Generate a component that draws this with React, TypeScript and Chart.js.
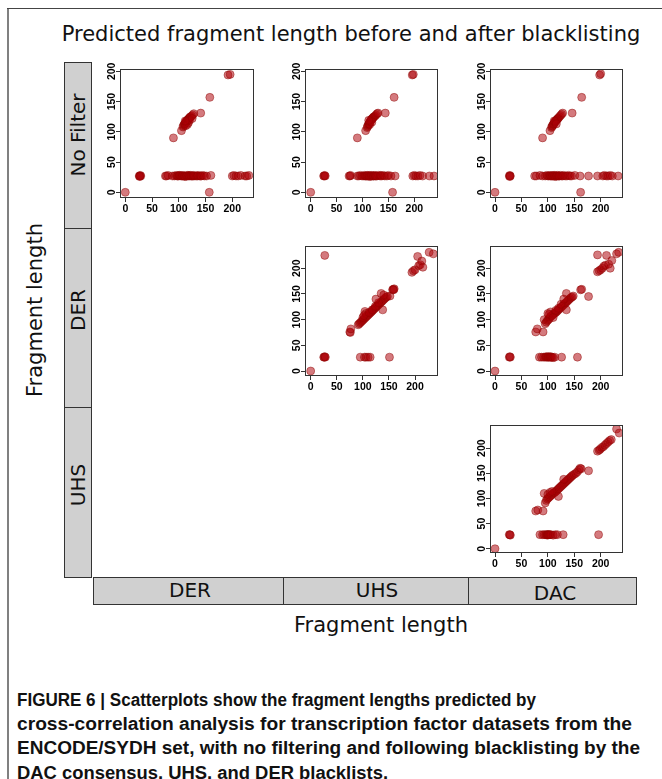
import React, { useEffect, useRef } from 'react';
import { Chart, registerables } from 'chart.js';

Chart.register(...registerables);

// ---------------- text ----------------
const TITLE = 'Predicted fragment length before and after blacklisting';
const AXIS_TITLE = 'Fragment length';
const ROW_LABELS = ['No Filter', 'DER', 'UHS'];
const COL_LABELS = ['DER', 'UHS', 'DAC'];
const TICK_VALUES = [0, 50, 100, 150, 200];
const CAPTION_LINES = [
  'FIGURE 6 | Scatterplots show the fragment lengths predicted by',
  'cross-correlation analysis for transcription factor datasets from the',
  'ENCODE/SYDH set, with no filtering and following blacklisting by the',
  'DAC consensus, UHS, and DER blacklists.',
];

type Pair = [number, number];

// ---------------- data: [column blacklist length, row length] ----------------
const NOFILTER_VS_DER: Pair[] = [
  [0, 0], [26, 27], [27, 27], [28, 28], [29, 27], [27, 26],
  [75, 27], [77, 27], [80, 28], [88, 27], [92, 27], [95, 28], [97, 27], [98, 27], [100, 27], [101, 28],
  [102, 28], [104, 27], [106, 27], [107, 27], [108, 28], [110, 27], [111, 27], [112, 26], [114, 27],
  [115, 27], [116, 28], [118, 27], [119, 28], [120, 27], [122, 28], [123, 27], [124, 27], [126, 27],
  [127, 27], [128, 28], [130, 27], [133, 27], [135, 27], [136, 28], [139, 27], [141, 27], [142, 27],
  [145, 28], [148, 27], [152, 27], [160, 28],
  [200, 27], [203, 28], [207, 27], [211, 27], [216, 28], [224, 27], [227, 27], [231, 28],
  [90, 90], [105, 102], [108, 108], [109, 110], [110, 112], [111, 113], [112, 114], [113, 116],
  [114, 117], [115, 118], [116, 119], [117, 120], [118, 121], [119, 122], [120, 123], [121, 124],
  [122, 125], [124, 126], [126, 128], [128, 130], [116, 112], [118, 115], [113, 110], [120, 119],
  [125, 122], [112, 118],
  [141, 131], [158, 157], [192, 194], [196, 195], [157, 0],
];

const NOFILTER_VS_UHS: Pair[] = [
  [0, 0], [25, 27], [26, 27], [27, 28], [28, 27],
  [74, 27], [76, 27], [77, 28], [90, 27], [93, 27], [96, 28], [99, 27], [102, 27], [104, 28], [105, 27],
  [106, 27], [108, 27], [109, 27], [110, 28], [112, 27], [113, 28], [114, 26], [116, 27], [117, 27],
  [118, 28], [120, 27], [121, 27], [122, 27], [124, 28], [125, 27], [126, 27], [128, 27], [131, 28],
  [134, 27], [135, 28], [137, 27], [140, 28], [143, 27], [147, 27], [150, 28], [155, 27], [163, 27],
  [197, 27], [200, 28], [203, 27], [207, 27], [211, 28], [216, 27], [229, 27], [238, 27],
  [90, 90], [106, 102], [109, 107], [110, 109], [111, 111], [112, 113], [113, 114], [114, 116],
  [115, 117], [116, 119], [117, 120], [118, 121], [119, 122], [120, 123], [121, 124], [122, 125],
  [124, 126], [126, 128], [128, 130], [130, 131], [114, 112], [118, 116], [112, 119],
  [144, 131], [161, 157], [196, 194], [198, 195], [158, 0],
];

const NOFILTER_VS_DAC: Pair[] = [
  [0, 0], [27, 27], [28, 28], [29, 27], [28, 26],
  [75, 27], [78, 27], [85, 28], [90, 27], [95, 27], [98, 28], [100, 27], [102, 27], [104, 28], [105, 27],
  [106, 27], [108, 27], [109, 27], [110, 28], [112, 27], [113, 28], [114, 26], [116, 27], [117, 27],
  [118, 28], [120, 27], [121, 27], [122, 27], [124, 28], [126, 27], [128, 27], [130, 28], [133, 27],
  [136, 27], [139, 28], [142, 27], [145, 27], [151, 28], [161, 27], [177, 27], [194, 27],
  [204, 27], [207, 28], [211, 27], [214, 27], [218, 28], [222, 27], [233, 27],
  [90, 90], [104, 102], [107, 107], [108, 109], [109, 110], [110, 112], [111, 113], [112, 114],
  [113, 116], [114, 117], [115, 118], [116, 119], [117, 120], [118, 121], [119, 122], [120, 123],
  [122, 125], [124, 127], [126, 129], [128, 131], [112, 118], [116, 113],
  [146, 131], [164, 157], [198, 194], [200, 196], [162, 0],
];

const DER_VS_UHS: Pair[] = [
  [0, 0], [25, 27], [26, 27], [27, 28], [28, 27], [27, 225],
  [95, 27], [103, 27], [106, 27], [110, 27], [114, 27], [151, 27],
  [75, 76], [76, 75], [77, 82], [91, 90], [93, 92], [95, 94], [97, 96], [99, 98], [101, 100], [103, 102],
  [105, 104], [107, 106], [109, 108], [111, 110], [113, 112], [115, 114], [117, 116], [119, 118],
  [121, 120], [123, 122], [125, 124], [127, 126], [129, 128], [131, 130], [133, 132], [135, 134],
  [137, 136], [139, 138], [141, 140], [143, 142], [145, 144], [147, 145], [100, 104], [104, 116],
  [106, 112], [102, 108], [112, 114], [118, 119], [124, 126], [130, 133], [138, 119], [135, 151],
  [125, 140], [152, 146], [140, 148], [157, 158], [158, 159], [160, 160], [159, 158],
  [194, 192], [197, 195], [200, 197], [205, 223], [207, 205], [210, 207], [213, 214], [215, 202],
  [227, 231], [235, 228],
];

const DER_VS_DAC: Pair[] = [
  [0, 0], [27, 27], [28, 28], [29, 27],
  [84, 27], [88, 27], [92, 27], [95, 27], [97, 28], [98, 27], [100, 27], [101, 28], [102, 27], [104, 27],
  [105, 28], [106, 27], [108, 27], [110, 26], [113, 27], [126, 27], [156, 27],
  [77, 76], [80, 82], [91, 76], [93, 100], [95, 92], [97, 95], [99, 98], [101, 100], [103, 102],
  [104, 105], [106, 107], [108, 108], [110, 110], [112, 112], [114, 113], [116, 115], [118, 117],
  [120, 119], [122, 121], [124, 123], [126, 125], [128, 127], [130, 129], [132, 131], [134, 133],
  [136, 135], [138, 137], [140, 139], [142, 141], [144, 143], [146, 144], [148, 146], [102, 110],
  [105, 115], [100, 112], [110, 104], [115, 118], [120, 122], [125, 130], [135, 119], [135, 151],
  [130, 140], [162, 158], [164, 159], [177, 145],
  [194, 226], [194, 193], [197, 195], [200, 197], [203, 200], [206, 204], [209, 206], [211, 225],
  [215, 208], [218, 200], [221, 215], [230, 228], [234, 231],
];

const UHS_VS_DAC: Pair[] = [
  [0, 0], [27, 28], [28, 28], [29, 27],
  [85, 28], [90, 28], [93, 28], [96, 28], [98, 28], [99, 27], [100, 28], [101, 28], [102, 28], [104, 28],
  [106, 28], [110, 27], [114, 28], [118, 28], [129, 28], [196, 28],
  [77, 75], [81, 77], [91, 75], [93, 110], [95, 91], [97, 96], [99, 99], [101, 101], [103, 103],
  [105, 105], [107, 107], [109, 109], [111, 111], [113, 112], [115, 114], [117, 116], [119, 118],
  [121, 120], [123, 122], [125, 124], [127, 126], [129, 128], [131, 130], [133, 132], [135, 134],
  [137, 136], [139, 138], [141, 140], [143, 142], [145, 144], [147, 146], [150, 148], [153, 150],
  [156, 153], [159, 157], [161, 160], [163, 159], [120, 104], [100, 108], [104, 112], [108, 114],
  [130, 138], [177, 155],
  [194, 194], [197, 196], [199, 198], [202, 201], [205, 203], [208, 206], [211, 209], [214, 212],
  [217, 215], [220, 217], [230, 238], [235, 230],
];

// ---------------- layout (page pixels) ----------------
const AXW = 34; // room for y tick labels
const AXH = 26; // room for x tick labels
const PAD = 6;

interface PanelSpec {
  data: Pair[];
  left: number; top: number; width: number; height: number;
  xMin: number; xMax: number; yMin: number; yMax: number;
}

const PANELS: PanelSpec[] = [
  { data: NOFILTER_VS_DER, left: 120, top: 69, width: 134, height: 129, xMin: -9.9, xMax: 240.6, yMin: -9.4, yMax: 203.9 },
  { data: NOFILTER_VS_UHS, left: 305, top: 69, width: 133, height: 129, xMin: -11, xMax: 245.7, yMin: -9.4, yMax: 203.9 },
  { data: NOFILTER_VS_DAC, left: 490, top: 69, width: 133, height: 129, xMin: -9.5, xMax: 242.2, yMin: -9.4, yMax: 203.9 },
  { data: DER_VS_UHS, left: 305, top: 246, width: 133, height: 130, xMin: -10.9, xMax: 244, yMin: -9.7, yMax: 243.3 },
  { data: DER_VS_DAC, left: 490, top: 246, width: 133, height: 130, xMin: -9.5, xMax: 242.2, yMin: -9.7, yMax: 243.3 },
  { data: UHS_VS_DAC, left: 490, top: 425, width: 133, height: 128, xMin: -9.5, xMax: 242.2, yMin: -8.5, yMax: 246 },
];

const POINT_FILL = 'rgba(172, 0, 8, 0.52)';
const POINT_EDGE = 'rgba(140, 0, 0, 0.55)';
const AXIS_COLOR = '#333333';
const TICK_FONT = { family: "'Liberation Sans', Arial, sans-serif", size: 10.5, weight: 'bold' as const };

const boxPlugin = {
  id: 'plotBox',
  afterDraw(chart: any) {
    const { ctx, chartArea: a } = chart;
    ctx.save();
    ctx.strokeStyle = AXIS_COLOR;
    ctx.lineWidth = 1;
    ctx.strokeRect(Math.round(a.left) + 0.5, Math.round(a.top) + 0.5,
      Math.round(a.right - a.left) - 1, Math.round(a.bottom - a.top) - 1);
    ctx.restore();
  },
};

function Panel({ p }: { p: PanelSpec }) {
  const ref = useRef<HTMLCanvasElement>(null);
  const cw = p.width + AXW + PAD;
  const ch = p.height + PAD + AXH;
  useEffect(() => {
    const chart = new Chart(ref.current as HTMLCanvasElement, {
      type: 'scatter',
      data: {
        datasets: [{
          data: p.data.map(([x, y]) => ({ x, y })),
          backgroundColor: POINT_FILL,
          borderColor: POINT_EDGE,
          borderWidth: 0.8,
          pointRadius: 4,
        }],
      },
      options: {
        animation: false,
        responsive: false,
        events: [],
        layout: { padding: { top: PAD, right: PAD, left: 0, bottom: 0 } },
        plugins: { legend: { display: false }, tooltip: { enabled: false } },
        scales: {
          x: {
            type: 'linear',
            min: p.xMin,
            max: p.xMax,
            afterBuildTicks: (s: any) => { s.ticks = TICK_VALUES.map((v) => ({ value: v })); },
            afterFit: (s: any) => { s.height = AXH; s.paddingLeft = 0; s.paddingRight = 0; },
            grid: { display: true, drawOnChartArea: false, drawTicks: true, tickLength: 4, color: AXIS_COLOR, lineWidth: 1 },
            border: { display: false },
            ticks: { autoSkip: false, minRotation: 0, maxRotation: 0, padding: 1, color: '#000', font: TICK_FONT },
          },
          y: {
            type: 'linear',
            min: p.yMin,
            max: p.yMax,
            afterBuildTicks: (s: any) => { s.ticks = TICK_VALUES.map((v) => ({ value: v })); },
            afterFit: (s: any) => { s.width = AXW; s.paddingTop = 0; s.paddingBottom = 0; },
            grid: { display: true, drawOnChartArea: false, drawTicks: true, tickLength: 4, color: AXIS_COLOR, lineWidth: 1 },
            border: { display: false },
            ticks: { autoSkip: false, minRotation: 90, maxRotation: 90, crossAlign: 'center', padding: -4.5, color: '#000', font: TICK_FONT },
          },
        },
      },
      plugins: [boxPlugin],
    } as any);
    return () => chart.destroy();
  }, []);
  return (
    <canvas
      ref={ref}
      width={cw}
      height={ch}
      style={{ position: 'absolute', left: p.left - AXW, top: p.top - PAD, width: cw, height: ch }}
    />
  );
}

const SANS = "'DejaVu Sans', Verdana, sans-serif";
const STRIP_BG = '#d0d0d0';
const STRIP_BORDER = '1px solid #333';

// strip geometry
const LEFT_STRIP_X = 64;
const LEFT_STRIP_W = 28;
const ROW_EDGES = [62, 228, 407, 577];
const ROW_TEXT_Y = [135, 310, 485];
const BOTTOM_STRIP_Y = 577;
const BOTTOM_STRIP_H = 28;
const COL_EDGES = [93, 283, 468, 636];
const COL_TEXT = [[190, 590], [377, 590], [555, 593]];

// caption geometry
const CAPTION_LEFT = 17;
const CAPTION_TOP = 700;
const CAPTION_STEP = 24.2;
const CAPTION_WIDTHS = [519, 615, 623, 371];

function CenterText({ x, y, text, size, rotate = 0, color = '#111' }: any) {
  return (
    <div style={{
      position: 'absolute', left: x, top: y, transform: `translate(-50%, -50%) rotate(${rotate}deg)`,
      whiteSpace: 'nowrap', fontFamily: SANS, fontSize: size, lineHeight: 1, color,
    }}>{text}</div>
  );
}

function CaptionLine({ text, i }: { text: string; i: number }) {
  const ref = useRef<HTMLDivElement>(null);
  useEffect(() => {
    const el = ref.current;
    if (!el) return;
    el.style.transform = 'translateY(-50%)';
    const w = el.getBoundingClientRect().width;
    if (w > 0) el.style.transform = `translateY(-50%) scaleX(${CAPTION_WIDTHS[i] / w})`;
  }, []);
  return (
    <div ref={ref} style={{
      position: 'absolute', left: CAPTION_LEFT, top: CAPTION_TOP + i * CAPTION_STEP, transform: 'translateY(-50%)',
      transformOrigin: 'left center', whiteSpace: 'nowrap',
      fontFamily: "'Liberation Sans', Arial, sans-serif",
      fontWeight: 'bold', fontSize: 18, lineHeight: 1, color: '#111',
    }}>{text}</div>
  );
}

export default function App() {
  return (
    <div style={{ position: 'absolute', left: 0, top: 0, width: 662, height: 779, overflow: 'hidden', background: '#fff' }}>
      {/* figure frame */}
      <div style={{ position: 'absolute', left: 7, top: 8, width: 2, height: 771, background: '#808080' }} />
      <div style={{ position: 'absolute', left: 7, top: 8, width: 655, height: 1, background: '#444' }} />

      <CenterText x={351} y={34} text={TITLE} size={21} />

      {/* left strips */}
      {ROW_LABELS.map((lab, i) => (
        <div key={'rs' + i} style={{
          position: 'absolute', left: LEFT_STRIP_X, top: ROW_EDGES[i], width: LEFT_STRIP_W,
          height: ROW_EDGES[i + 1] - ROW_EDGES[i] + 1, background: STRIP_BG, border: STRIP_BORDER, boxSizing: 'border-box',
        }} />
      ))}
      {ROW_LABELS.map((lab, i) => (
        <CenterText key={'rt' + i} x={LEFT_STRIP_X + LEFT_STRIP_W / 2} y={ROW_TEXT_Y[i]} text={lab} size={20} rotate={-90} />
      ))}

      {/* bottom strips */}
      {COL_LABELS.map((lab, i) => (
        <div key={'cs' + i} style={{
          position: 'absolute', left: COL_EDGES[i], top: BOTTOM_STRIP_Y, width: COL_EDGES[i + 1] - COL_EDGES[i] + 1,
          height: BOTTOM_STRIP_H, background: STRIP_BG, border: STRIP_BORDER, boxSizing: 'border-box',
        }} />
      ))}
      {COL_LABELS.map((lab, i) => (
        <CenterText key={'ct' + i} x={COL_TEXT[i][0]} y={COL_TEXT[i][1]} text={lab} size={20} />
      ))}

      <CenterText x={381} y={625} text={AXIS_TITLE} size={21} />
      <CenterText x={35} y={310} text={AXIS_TITLE} size={21} rotate={-90} />

      {PANELS.map((p, i) => <Panel key={i} p={p} />)}

      {CAPTION_LINES.map((line, i) => <CaptionLine key={'cap' + i} text={line} i={i} />)}
    </div>
  );
}
